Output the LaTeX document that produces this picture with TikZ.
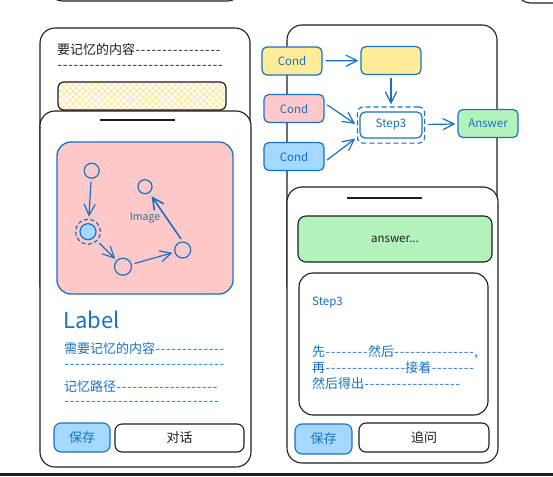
\documentclass[tikz,border=0pt]{standalone}
\usepackage{fontspec}
\setmainfont{Noto Sans CJK SC}
\usepackage{tikz}
\usetikzlibrary{arrows.meta,patterns.meta,fit}
\definecolor{ink}{HTML}{1E1E1E}
\definecolor{strokeblue}{HTML}{1971C2}
\definecolor{fillpink}{HTML}{FFC9C9}
\definecolor{fillyellow}{HTML}{FFEC99}
\definecolor{fillblue}{HTML}{A5D8FF}
\definecolor{fillgreen}{HTML}{B2F2BB}
\definecolor{hatch}{HTML}{FFE380}
\newcommand\dashes[1]{\foreach\k in {1,...,#1}{\makebox[5.35pt]{-}}}

\begin{document}
\begin{tikzpicture}[x=1pt, y=-1pt,
    card/.style={draw=ink, line width=1.1pt, fill=white, rounded corners=15pt},
    box/.style={draw=strokeblue, line width=1.2pt, rounded corners=5pt, minimum width=60pt, minimum height=28pt, text=strokeblue, font=\fontsize{11.5}{13}\selectfont},
    btn/.style={line width=1.1pt, rounded corners=7pt, font=\fontsize{13}{15}\selectfont},
    dot/.style={circle, draw=strokeblue, line width=1.2pt, inner sep=0pt},
    link/.style={draw=strokeblue, line width=1.2pt, -{Straight Barb[length=11pt,width=11pt,line cap=round]}, shorten >=2pt, shorten <=3pt},
    txt/.style={anchor=west, inner sep=0pt, font=\fontsize{13}{15}\selectfont}]
  \useasboundingbox (0,0) rectangle (553,476);
  \draw[ink, line width=1.1pt, rounded corners=12pt] (50,-20) -- (50,1) -- (240,1) -- (240,-20);
  \draw[ink, line width=1.1pt, rounded corners=12pt] (518,-20) -- (518,3) -- (570,3);
  \fill[ink] (0,473) rectangle (553,476);

  \draw[card] (40,28) rectangle (250,300);
  \node[txt, text=ink] (memo) at (57,50) {要记忆的内容\dashes{16}};
  \node[txt, text=ink] (memo2) at (57,67) {\dashes{31}};
  \fill[white, rounded corners=6pt] (58,82) rectangle (226,110);
  \fill[pattern={Lines[angle=45,distance=4.5pt,line width=0.7pt]}, pattern color=hatch, rounded corners=6pt] (58,82) rectangle (226,110);
  \fill[pattern={Lines[angle=-45,distance=4.5pt,line width=0.7pt]}, pattern color=hatch, rounded corners=6pt] (58,82) rectangle (226,110);
  \draw[ink, line width=1.2pt, rounded corners=6pt] (58,82) rectangle (226,110);

  \draw[card] (40,111) rectangle (251,467);
  \draw[ink, line width=1.6pt] (100,120) -- (175,120);
  \node[draw=strokeblue, fill=fillpink, line width=1.3pt, rounded corners=14pt, minimum width=176pt, minimum height=152pt, text=strokeblue, font=\fontsize{10.5}{12}\selectfont] (image) at (145,218) {Image};
  \node[dot, minimum size=15pt] (c1) at (91.7,170.7) {};
  \node[dot, fill=fillblue, minimum size=16pt] (c2) at (88,231.7) {};
  \node[dot, dash pattern=on 4pt off 2.5pt, minimum size=25pt] (ring) at (88,231.7) {};
  \node[dot, minimum size=17pt] (c3) at (123,266.7) {};
  \node[dot, minimum size=16pt] (c4) at (182.7,250) {};
  \node[dot, minimum size=14pt] (c5) at (145,186.7) {};
  \draw[link] (c1) -- (ring);
  \draw[link] (ring) -- (c3);
  \draw[link] (c3) -- (c4);
  \draw[link, line width=1.6pt, shorten >=4pt] (c4.north) -- (c5);

  \node[anchor=west, inner sep=0pt, text=strokeblue, font=\fontsize{22}{24}\selectfont] (label) at (63,320) {Label};
  \node[txt, text=strokeblue] (need) at (64,349) {需要记忆的内容\dashes{13}};
  \node[txt, text=strokeblue] (need2) at (64,366) {\dashes{30}};
  \node[txt, text=strokeblue] (path) at (64,387) {记忆路径\dashes{19}};
  \node[txt, text=strokeblue] (path2) at (64,403) {\dashes{29}};
  \node[btn, draw=strokeblue, fill=fillblue, text=strokeblue, minimum width=56pt, minimum height=29pt] (saveL) at (82,437.5) {保存};
  \node[btn, draw=ink, fill=white, text=ink, minimum width=129pt, minimum height=28pt] (chat) at (179.5,438) {对话};

  \draw[card] (287,25) rectangle (497,300);
  \node[box, fill=fillyellow] (condY) at (292,61) {Cond};
  \node[box, fill=fillyellow] (blank) at (391,60.5) {};
  \node[box, fill=fillpink] (condP) at (294,108.5) {Cond};
  \node[box, fill=fillblue] (condB) at (294,156.5) {Cond};
  \node[box, fill=white, minimum width=62pt, minimum height=26pt] (step) at (391,125) {Step3};
  \node[draw=strokeblue, line width=1.2pt, dash pattern=on 5pt off 3pt, rounded corners=6pt, fit=(step), inner xsep=2pt, inner ysep=4.5pt] (stepring) {};
  \node[box, fill=fillgreen] (answer) at (488,123.5) {Answer};
  \draw[link] (condY) -- (blank);
  \draw[link] (blank) -- (stepring);
  \draw[link] (condP.10) -- (stepring.west);
  \draw[link] (condB.-10) -- (stepring.200);
  \draw[link] (stepring) -- (answer);

  \draw[card] (287,187) rectangle (498,463);
  \draw[ink, line width=1.6pt] (347,198) -- (422,198);
  \node[draw=ink, line width=1.1pt, fill=fillgreen, rounded corners=8pt, minimum width=194pt, minimum height=46pt, text=ink, font=\fontsize{11.5}{13}\selectfont] (reply) at (395,239) {answer...};
  \node[draw=ink, line width=1.1pt, fill=white, rounded corners=14pt, minimum width=189pt, minimum height=142pt] (notes) at (393.5,344) {};
  \node[anchor=west, inner sep=0pt, text=strokeblue, font=\fontsize{11.5}{13}\selectfont] (notetitle) at (312,303) {Step3};
  \node[txt, text=strokeblue] (first) at (312,352) {先\dashes{8}然后\dashes{15},};
  \node[txt, text=strokeblue] (then) at (312,368) {再\dashes{15}接着\dashes{8}};
  \node[txt, text=strokeblue] (final) at (312,384) {然后得出\dashes{18}};
  \node[btn, draw=strokeblue, fill=fillblue, text=strokeblue, minimum width=57pt, minimum height=30pt] (saveR) at (323.5,439) {保存};
  \node[btn, draw=ink, fill=white, text=ink, minimum width=130pt, minimum height=29pt] (ask) at (424,437.5) {追问};
\end{tikzpicture}
\end{document}
